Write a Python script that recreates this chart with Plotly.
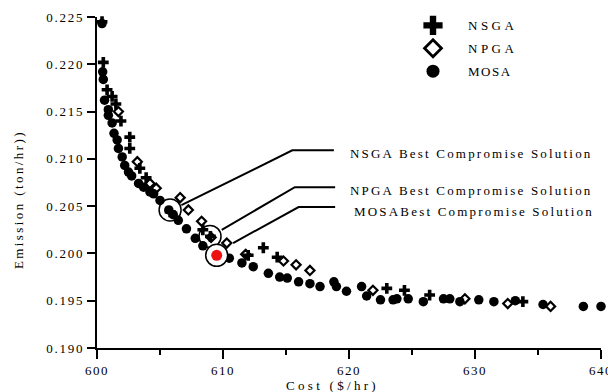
import plotly.graph_objects as go

# ---------------- data ----------------
nsga_cost = [600.4, 600.5, 600.8, 601.2, 601.5, 601.9, 602.6, 602.6, 603.4, 603.9,
             605.8, 608.4, 609.0, 612.0, 613.2, 614.3, 623.0, 624.4, 626.4, 633.8]
nsga_emis = [0.2245, 0.2202, 0.2173, 0.2166, 0.2158, 0.2140, 0.2123, 0.2111, 0.2090, 0.2080,
             0.2044, 0.2025, 0.2018, 0.1998, 0.2006, 0.1996, 0.1963, 0.1961, 0.1956, 0.1949]

npga_cost = [601.7, 603.2, 604.2, 604.7, 606.6, 607.25, 608.3, 609.05, 610.3, 611.8,
             614.8, 615.8, 616.9, 621.9, 629.2, 632.6, 636.0]
npga_emis = [0.2150, 0.2097, 0.2074, 0.2069, 0.2059, 0.2046, 0.2034, 0.2017, 0.2011, 0.1999,
             0.1992, 0.1988, 0.1982, 0.1961, 0.1952, 0.1947, 0.1944]

mosa_cost = [600.4, 600.45, 600.5, 600.6, 600.9, 600.9, 601.2, 601.35, 601.6, 601.7,
             602.0, 602.2, 602.5, 602.75, 603.3, 603.7, 604.2, 604.5, 605.0, 605.7,
             606.05, 606.45, 607.1, 607.8, 608.4, 609.6, 610.5, 611.5, 612.4, 613.6,
             614.5, 615.1, 616.0, 616.9, 617.7, 618.8, 619.0, 619.8, 621.0, 621.4,
             622.5, 623.5, 623.8, 624.7, 625.9, 627.5, 628.0, 628.8, 630.3, 631.5,
             633.2, 635.4, 638.6, 640.0]
mosa_emis = [0.2243, 0.2192, 0.2184, 0.2162, 0.2152, 0.2146, 0.2138, 0.2127, 0.2120, 0.2111,
             0.2102, 0.2093, 0.2086, 0.2082, 0.2074, 0.2070, 0.2065, 0.2063, 0.2056, 0.2046,
             0.2041, 0.2035, 0.2026, 0.2016, 0.2008, 0.1998, 0.1995, 0.1990, 0.1986, 0.1979,
             0.1975, 0.1974, 0.1970, 0.1968, 0.1965, 0.1970, 0.1965, 0.1960, 0.1965, 0.1955,
             0.1951, 0.1951, 0.1952, 0.1952, 0.1949, 0.1952, 0.1952, 0.1949, 0.1951, 0.1949,
             0.1950, 0.1946, 0.1944, 0.1944]

# best compromise solutions
best_names = ["NSGA", "NPGA", "MOSA"]
best_cost = [605.8, 608.97, 609.5]
best_emis = [0.2046, 0.2018, 0.1998]
best_labels = ["NSGA Best Compromise Solution",
               "NPGA Best Compromise Solution",
               "MOSABest Compromise Solution"]
# leader line anchor points (start, elbow, end) in data units
leader_start_c = [606.7, 609.9, 610.8]
leader_start_e = [0.2051, 0.2025, 0.2011]
leader_elbow_c = [615.5, 615.7, 616.0]
leader_elbow_e = [0.2109, 0.2070, 0.2049]
leader_end_c = [618.8, 618.9, 618.9]
label_c = [619.9, 619.9, 620.2]
label_e = [0.2106, 0.2067, 0.2044]

x_ticks = [600, 610, 620, 630, 640]
y_ticks = [0.190, 0.195, 0.200, 0.205, 0.210, 0.215, 0.220, 0.225]

FONT = "Liberation Serif, Times New Roman, serif"


def sp(text, px):
    return '<span style="letter-spacing:%spx">%s</span>' % (px, text)


fig = go.Figure()

common = dict(mode="markers", showlegend=False, cliponaxis=False, hoverinfo="skip")
fig.add_trace(go.Scatter(x=mosa_cost, y=mosa_emis, name="MOSA",
                         marker=dict(symbol="circle", size=9.5, color="black",
                                     line=dict(width=0)), **common))
fig.add_trace(go.Scatter(x=npga_cost, y=npga_emis, name="NPGA",
                         marker=dict(symbol="diamond-open", size=7, color="black",
                                     line=dict(width=2.2, color="black")), **common))
fig.add_trace(go.Scatter(x=nsga_cost, y=nsga_emis, name="NSGA",
                         marker=dict(symbol="cross", size=9, color="black",
                                     line=dict(width=0)), **common))

# best compromise rings
fig.add_trace(go.Scatter(x=best_cost[:2], y=best_emis[:2],
                         marker=dict(symbol="circle-open", size=22, color="black",
                                     line=dict(width=1.5, color="black")), **common))
fig.add_trace(go.Scatter(x=best_cost[2:], y=best_emis[2:],
                         marker=dict(symbol="circle", size=22, color="white",
                                     line=dict(width=1.5, color="black")), **common))
fig.add_trace(go.Scatter(x=best_cost[2:], y=best_emis[2:],
                         marker=dict(symbol="circle", size=11, color="#ee1111",
                                     line=dict(width=0)), **common))

# legend-only entries (bigger symbols like the reference legend)
leg = [("NSGA", "cross", 16, 0, 3.5), ("NPGA", "diamond-open", 13, 2.8, 3.5),
       ("MOSA", "circle", 13, 0, 1.5)]
for i, (nm, sym, sz, lw, ls) in enumerate(leg):
    fig.add_trace(go.Scatter(x=[None], y=[None], mode="markers", name=sp(nm, ls),
                             legendgroup=nm,
                             marker=dict(symbol=sym, size=sz, color="black",
                                         line=dict(width=lw, color="black"))))

shapes = []
annotations = []
for i in range(3):
    shapes.append(dict(type="path", xref="x", yref="y",
                       path="M %s,%s L %s,%s L %s,%s" % (
                           leader_start_c[i], leader_start_e[i],
                           leader_elbow_c[i], leader_elbow_e[i],
                           leader_end_c[i], leader_elbow_e[i]),
                       line=dict(color="black", width=2)))
    annotations.append(dict(x=label_c[i], y=label_e[i], xref="x", yref="y",
                            text=sp(best_labels[i], 2.2), showarrow=False,
                            xanchor="left", yanchor="middle",
                            font=dict(family=FONT, size=13, color="black")))

annotations.append(dict(x=(332 - 97) / 504, y=-37 / 331, xref="paper", yref="paper",
                        text=sp("Cost ($/hr)", 3.3), showarrow=False,
                        xanchor="center", yanchor="middle",
                        font=dict(family=FONT, size=13, color="black")))
annotations.append(dict(x=-(97 - 19) / 504, y=(348 - 200) / 331, xref="paper", yref="paper",
                        text=sp("Emission (ton/hr))", 2.4), showarrow=False, textangle=-90,
                        xanchor="center", yanchor="middle",
                        font=dict(family=FONT, size=13, color="black")))

fig.update_layout(
    width=608, height=392,
    margin=dict(l=97, r=7, t=17, b=44, autoexpand=False),
    paper_bgcolor="white", plot_bgcolor="white",
    font=dict(family=FONT, size=13, color="black"),
    shapes=shapes, annotations=annotations,
    legend=dict(x=(398 - 97) / 504, y=1.02, xanchor="left", yanchor="top",
                bgcolor="rgba(0,0,0,0)", itemwidth=60, tracegroupgap=3,
                traceorder="grouped",
                font=dict(family=FONT, size=13, color="black")),
    xaxis=dict(range=[600, 640], showgrid=False, zeroline=False, automargin=False,
               showline=True, linewidth=2, linecolor="black",
               ticks="outside", ticklen=9, tickwidth=2, tickcolor="black",
               tickvals=x_ticks, ticktext=[sp(str(v), 1.5) for v in x_ticks],
               tickfont=dict(family=FONT, size=13), ticklabeloverflow="allow",
               minor=dict(ticks="outside", ticklen=5, tickwidth=2, tickcolor="black",
                          dtick=5, tick0=600, showgrid=False)),
    yaxis=dict(range=[0.190, 0.225], showgrid=False, zeroline=False, automargin=False,
               showline=True, linewidth=2, linecolor="black",
               ticks="outside", ticklen=8, tickwidth=2, tickcolor="black",
               tickvals=y_ticks, ticktext=[sp("%.3f" % v, 1.8) for v in y_ticks],
               tickfont=dict(family=FONT, size=13)),
)

fig.write_html("out.html")
